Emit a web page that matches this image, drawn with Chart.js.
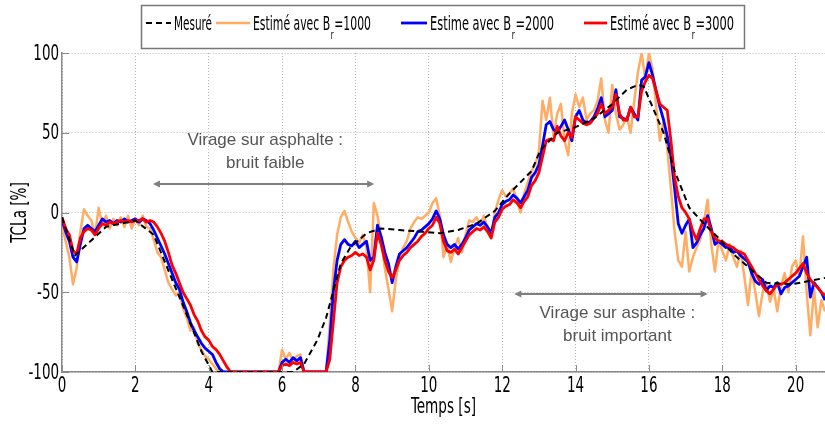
<!DOCTYPE html>
<html>
<head>
<meta charset="utf-8">
<script src="https://cdn.jsdelivr.net/npm/chart.js@4.4.0/dist/chart.umd.min.js"></script>
<style>
  html, body { margin: 0; padding: 0; background: #fff; }
  #wrap { width: 825px; height: 426px; }
</style>
</head>
<body>
<div id="wrap"><canvas id="myChart" width="825" height="426"></canvas></div>
<script>
// sampling of the estimated signals: one value every 0.1 s, 0 -> 20.8 s
var pasTemps = 0.1;
var temps = [];
for (var i = 0; i <= 208; i++) temps.push(+(i * pasTemps).toFixed(1));

// measured TCLa (dashed), own time base
var tempsMesure = [0, 0.35, 1.2, 2.0, 2.5, 3.0, 3.4, 3.8, 4.1, 6.3, 6.6, 6.96, 7.2, 7.4, 7.6, 7.86,
                   8.3, 8.7, 9.2, 9.8, 10.3, 10.8, 11.3, 11.8, 12.2, 12.8, 13.04, 13.5, 13.95, 14.5,
                   14.95, 15.4, 15.7, 15.86, 16.1, 16.4, 16.7, 17.1, 17.5, 17.9, 18.3, 18.8, 19.2, 19.9, 20.8];
var mesure = [-3, -27, -9, -5, -14, -42, -64, -87, -100, -100, -95, -80, -66, -49, -32, -22,
              -13, -10, -11, -12, -13, -11, -7, 1, 12, 26, 39, 50, 53, 59,
              67, 77, 80, 79, 66, 50, 26, 3, -7, -16, -26, -36, -44, -45, -41];

// Br = 1000 (one row per second)
var estime1000 = [
  -8,-18,-28,-45,-35,-12,2,-2,-5,-14,
  3,-8,-2,-10,-4,-8,-3,-9,-2,-10,
  -4,-8,-2,-9,-10,-17,-25,-28,-36,-44,
  -48,-52,-50,-60,-66,-74,-72,-82,-86,-90,
  -92,-95,-98,-100,-100,-100,-100,-100,-100,-100,
  -100,-100,-100,-100,-100,-100,-100,-100,-100,-100,
  -86,-92,-88,-93,-90,-89,-100,-100,-100,-100,
  -100,-100,-100,-70,-35,-14,-3,1,-6,-12,
  -16,-19,-14,-22,-50,6,-2,-16,-35,-48,
  -62,-42,-28,-22,-18,-10,-6,-3,-4,-2,
  0,6,9,-2,-28,-20,-31,-22,-16,-25,
  -14,-5,-6,-3,-8,-2,-10,-16,0,8,
  14,10,12,15,8,0,12,19,26,30,
  38,70,58,72,48,62,68,45,36,62,
  74,66,72,58,62,64,70,84,58,50,
  80,62,52,55,60,50,70,88,100,84,
  100,90,66,45,58,40,15,-12,-30,-34,
  -12,-37,-28,-22,-17,-6,8,-20,-37,-17,
  -24,-30,-20,-28,-34,-24,-40,-58,-36,-50,
  -65,-50,-44,-56,-48,-62,-46,-38,-50,-34,
  -30,-40,-15,-50,-77,-48,-72,-55,-62
];

// Br = 2000
var estime2000 = [
  -5,-12,-18,-28,-31,-20,-10,-8,-10,-12,
  -8,-4,-6,-5,-7,-5,-6,-4,-6,-5,
  -4,-6,-4,-5,-7,-11,-16,-21,-26,-32,
  -38,-44,-48,-56,-62,-69,-74,-78,-82,-85,
  -87,-89,-94,-98,-100,-100,-100,-100,-100,-100,
  -100,-100,-100,-100,-100,-100,-100,-100,-100,-100,
  -94,-92,-94,-91,-93,-91,-100,-100,-100,-100,
  -100,-100,-100,-80,-49,-30,-20,-17,-20,-21,
  -18,-22,-20,-18,-30,-28,-8,-15,-25,-32,
  -44,-34,-26,-24,-22,-19,-16,-12,-11,-9,
  -7,-4,1,-4,-14,-20,-22,-20,-23,-20,
  -16,-11,-9,-7,-8,-6,-9,-13,-3,0,
  5,7,8,11,9,6,10,14,22,25,
  30,42,55,57,52,50,54,58,52,45,
  60,64,58,56,57,60,65,72,60,62,
  64,77,60,59,58,66,62,58,83,85,
  94,86,76,66,58,48,35,15,-7,-13,
  -8,-4,-22,-19,-14,-10,-2,-10,-20,-18,
  -20,-22,-21,-25,-24,-27,-29,-31,-38,-43,
  -45,-42,-49,-46,-47,-44,-51,-47,-46,-44,
  -42,-40,-34,-28,-53,-44,-47,-50,-55
];

// Br = 3000
var estime3000 = [
  -3,-10,-14,-24,-26,-16,-12,-10,-11,-14,
  -10,-7,-8,-6,-7,-6,-5,-6,-5,-6,
  -5,-5,-4,-6,-5,-6,-9,-13,-18,-25,
  -33,-38,-44,-50,-54,-58,-64,-68,-74,-78,
  -80,-84,-86,-89,-93,-97,-100,-100,-100,-100,
  -100,-100,-100,-100,-100,-100,-100,-100,-100,-100,
  -96,-95,-96,-94,-95,-94,-100,-100,-100,-100,
  -100,-100,-100,-92,-68,-44,-34,-30,-28,-27,
  -25,-27,-26,-28,-36,-30,-13,-20,-30,-37,
  -41,-36,-30,-27,-25,-22,-20,-18,-15,-13,
  -10,-8,-3,-7,-18,-24,-25,-23,-26,-22,
  -18,-14,-12,-10,-11,-9,-12,-16,-6,-3,
  2,4,5,8,6,3,7,10,17,20,
  25,35,45,46,45,54,48,45,50,47,
  60,58,56,55,56,59,62,68,62,64,
  66,74,62,58,58,66,60,60,76,82,
  86,84,76,68,66,64,45,22,10,3,
  0,-4,-12,-17,-10,-4,-4,-12,-16,-18,
  -18,-20,-21,-22,-24,-25,-26,-30,-34,-38,
  -42,-46,-49,-51,-48,-45,-45,-44,-42,-40,
  -38,-35,-32,-38,-42,-45,-47,-50,-52
];

var ticksX = [0, 2, 4, 6, 8, 10, 12, 14, 16, 18, 20];
var ticksY = [-100, -50, 0, 50, 100];
var titreX = 'Temps [s]';
var titreY = 'TCLa [%]';

function points(xs, ys) {
  var out = [];
  for (var k = 0; k < xs.length && k < ys.length; k++) out.push({x: xs[k], y: ys[k]});
  return out;
}

var narrow = "'DejaVu Sans Condensed', 'Liberation Sans Narrow', sans-serif";
var grisAxe = '#8a8a8a';

// legend entries: label split around the subscript
var legende = [
  {ds: 0, texte: 'Mesuré', indice: '', suite: '', x0: 146, x1: 171, tx: 174, tEnd: 212},
  {ds: 1, texte: 'Estimé avec B', indice: 'r', suite: '=1000', x0: 216, x1: 250, tx: 253, tEnd: 371},
  {ds: 2, texte: 'Estime avec B', indice: 'r', suite: '=2000', x0: 401, x1: 427, tx: 430, tEnd: 554},
  {ds: 3, texte: 'Estimé avec B', indice: 'r', suite: '=3000', x0: 584, x1: 607, tx: 610, tEnd: 734}
];

// text blocks + double arrows, in data coordinates
var notes = [
  {lignes: ['Virage sur asphalte :', 'bruit faible'], cx: 5.54, y1: 45.3, y2: 30.8,
   fleche: {de: 2.48, a: 8.51, y: 17.6}},
  {lignes: ['Virage sur asphalte :', 'bruit important'], cx: 15.14, y1: -63.5, y2: -77.4,
   fleche: {de: 12.33, a: 17.6, y: -51}}
];

// narrow lettering: condensed face squeezed horizontally
function texteEtroit(ctx, txt, x, y, taille, sx, align) {
  ctx.save();
  ctx.font = taille + 'px ' + narrow;
  ctx.textAlign = align;
  ctx.textBaseline = 'middle';
  ctx.translate(x, y);
  ctx.scale(sx, 1);
  ctx.fillText(txt, 0, 0);
  ctx.restore();
}

function drawArrow(ctx, xa, xb, y) {
  var h = 7, w = 3.5;
  ctx.beginPath();
  ctx.moveTo(xa + 2, y); ctx.lineTo(xb - 2, y);
  ctx.stroke();
  ctx.beginPath();
  ctx.moveTo(xa, y); ctx.lineTo(xa + h, y - w); ctx.lineTo(xa + h, y + w); ctx.closePath();
  ctx.moveTo(xb, y); ctx.lineTo(xb - h, y - w); ctx.lineTo(xb - h, y + w); ctx.closePath();
  ctx.fill();
}

var decor = {
  id: 'decor',
  afterDraw: function(chart) {
    var ctx = chart.ctx, xs = chart.scales.x, ys = chart.scales.y, area = chart.chartArea;

    // inner tick marks
    ctx.save();
    ctx.strokeStyle = grisAxe; ctx.lineWidth = 1;
    ticksY.forEach(function(v) {
      var py = Math.round(ys.getPixelForValue(v)) + 0.5;
      ctx.beginPath(); ctx.moveTo(area.left, py); ctx.lineTo(area.left + 7, py); ctx.stroke();
    });
    ticksX.forEach(function(v) {
      var px = Math.round(xs.getPixelForValue(v)) + 0.5;
      ctx.beginPath(); ctx.moveTo(px, area.bottom); ctx.lineTo(px, area.bottom - 7); ctx.stroke();
    });
    ctx.restore();

    // tick labels and axis titles
    ctx.save();
    ctx.fillStyle = '#000';
    ticksY.forEach(function(v) {
      texteEtroit(ctx, String(v), area.left - 3, ys.getPixelForValue(v) + 1, 22, 0.68, 'right');
    });
    ticksX.forEach(function(v) {
      texteEtroit(ctx, String(v), xs.getPixelForValue(v), area.bottom + 14, 22, 0.68, 'center');
    });
    texteEtroit(ctx, titreX, (area.left + area.right) / 2, 408, 21, 0.72, 'center');
    ctx.save();
    ctx.translate(21, (area.top + area.bottom) / 2);
    ctx.rotate(-Math.PI / 2);
    texteEtroit(ctx, titreY, 0, 0, 21, 0.72, 'center');
    ctx.restore();
    ctx.restore();

    // annotations
    ctx.save();
    ctx.fillStyle = '#555'; ctx.strokeStyle = '#7f7f7f'; ctx.lineWidth = 2;
    ctx.font = "17px 'Liberation Sans', Arial, sans-serif";
    ctx.textAlign = 'center'; ctx.textBaseline = 'middle';
    notes.forEach(function(n) {
      var cx = xs.getPixelForValue(n.cx);
      ctx.fillText(n.lignes[0], cx, ys.getPixelForValue(n.y1));
      ctx.fillText(n.lignes[1], cx, ys.getPixelForValue(n.y2));
      ctx.fillStyle = '#7f7f7f';
      drawArrow(ctx, xs.getPixelForValue(n.fleche.de), xs.getPixelForValue(n.fleche.a),
                Math.round(ys.getPixelForValue(n.fleche.y)));
      ctx.fillStyle = '#555';
    });
    ctx.restore();

    // legend box
    ctx.save();
    ctx.fillStyle = '#fff';
    ctx.fillRect(141, 5, 604, 44);
    ctx.strokeStyle = '#777'; ctx.lineWidth = 1.5;
    ctx.strokeRect(141.5, 5.5, 603, 43);
    legende.forEach(function(it) {
      var ds = chart.data.datasets[it.ds];
      ctx.strokeStyle = ds.borderColor;
      ctx.lineWidth = ds.borderWidth;
      ctx.setLineDash(ds.borderDash || []);
      ctx.beginPath(); ctx.moveTo(it.x0, 23); ctx.lineTo(it.x1, 23); ctx.stroke();
      ctx.setLineDash([]);

      ctx.fillStyle = '#000';
      ctx.textBaseline = 'alphabetic'; ctx.textAlign = 'left';
      var fMain = '20px ' + narrow, fSub = '13px ' + narrow;
      ctx.font = fMain;
      var w1 = ctx.measureText(it.texte).width, w3 = ctx.measureText(it.suite).width;
      ctx.font = fSub;
      var w2 = it.indice ? ctx.measureText(it.indice).width + 2 : 0;
      var s = (it.tEnd - it.tx) / (w1 + w2 + w3);
      ctx.save();
      ctx.translate(it.tx, 30);
      ctx.scale(s, 1);
      ctx.font = fMain; ctx.fillText(it.texte, 0, 0);
      if (it.indice) { ctx.font = fSub; ctx.fillText(it.indice, w1 + 1, 9); }
      ctx.font = fMain; ctx.fillText(it.suite, w1 + w2, 0);
      ctx.restore();
    });
    ctx.restore();
  }
};

var contx = document.getElementById('myChart').getContext('2d');
var myChart = new Chart(contx, {
  type: 'line',
  data: {
    datasets: [{
      label: 'Mesuré',
      data: points(tempsMesure, mesure),
      borderColor: '#000000',
      borderWidth: 2,
      borderDash: [6, 4],
      order: 0
    }, {
      label: 'Estimé avec Br=1000',
      data: points(temps, estime1000),
      borderColor: 'rgb(255, 172, 100)',
      borderWidth: 2.5,
      order: 3
    }, {
      label: 'Estime avec Br=2000',
      data: points(temps, estime2000),
      borderColor: '#0000ff',
      borderWidth: 2.8,
      order: 2
    }, {
      label: 'Estimé avec Br=3000',
      data: points(temps, estime3000),
      borderColor: '#ff0000',
      borderWidth: 2.8,
      order: 1
    }]
  },
  options: {
    responsive: false,
    animation: false,
    layout: { padding: { top: 53, right: 0, left: 0, bottom: 0 } },
    elements: { point: { radius: 0 }, line: { tension: 0, borderJoinStyle: 'round' } },
    plugins: { legend: { display: false }, tooltip: { enabled: false } },
    scales: {
      x: {
        type: 'linear', min: 0, max: 20.8,
        afterFit: function(sc) { sc.height = 54; },
        afterBuildTicks: function(sc) { sc.ticks = ticksX.map(function(v) { return {value: v}; }); },
        ticks: { display: false },
        grid: { color: '#b5b5b5', lineWidth: 1, drawTicks: false },
        border: { color: grisAxe, width: 1.5, dash: [1, 2] }
      },
      y: {
        min: -100, max: 100,
        afterFit: function(sc) { sc.width = 62; },
        afterBuildTicks: function(sc) { sc.ticks = ticksY.map(function(v) { return {value: v}; }); },
        ticks: { display: false },
        grid: { color: '#b5b5b5', lineWidth: 1, drawTicks: false },
        border: { color: grisAxe, width: 1.5, dash: [1, 2] }
      }
    }
  },
  plugins: [decor]
});
</script>
</body>
</html>
